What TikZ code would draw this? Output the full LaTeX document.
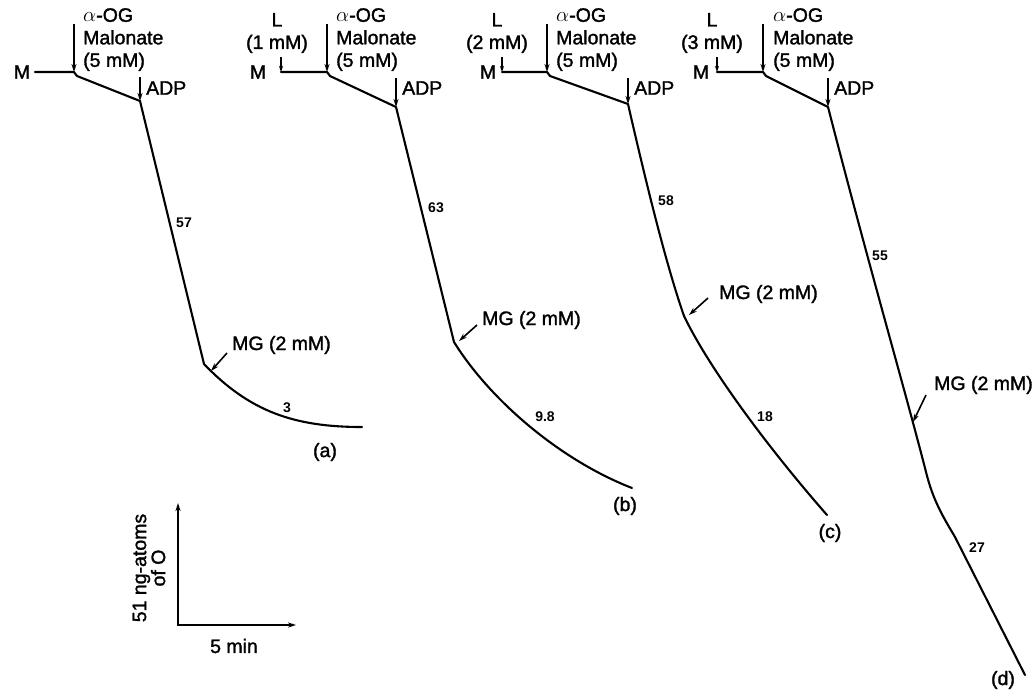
\documentclass[tikz,border=0pt]{standalone}
\usepackage{fontspec}
\setmainfont{Liberation Sans}
\newfontfamily\plotfont{Liberation Sans}[BoldFont={Liberation Sans}, BoldFeatures={FakeBold=1.5}]
\usetikzlibrary{arrows.meta}
\tikzstyle{trace} = [line width=2.1pt, line join=round, line cap=round]
\tikzstyle{addition} = [line width=1.6pt, -{Stealth[length=8pt, width=5pt]}]
\tikzstyle{ladd} = [line width=1.4pt, -{Stealth[length=6pt, width=4pt]}]
\tikzstyle{reagent} = [font=\plotfont\bfseries\fontsize{19.5}{22.5}\selectfont, inner sep=0pt]
\tikzstyle{rate} = [font=\bfseries\fontsize{14}{16}\selectfont, inner sep=0pt]
\tikzstyle{axis} = [line width=2.3pt, line cap=rect, -{Stealth[length=8pt, width=5pt]}]

\begin{document}
\begin{tikzpicture}[x=1pt, y=-1pt]
\useasboundingbox (0,0) rectangle (1036,689);
% trace (a)
\node (Ma) [reagent] at (22,72) {M};
\coordinate (a0) at (35,72);
\coordinate (a1) at (74,72);
\coordinate (a2) at (140,101);
\coordinate (a3) at (204,364);
\coordinate (a4) at (362,427);
\draw[trace] (a0) -- (a1) -- ++(3,4) -- (a2) -- (a3) .. controls (250,412) and (295,427) .. (a4);
\coordinate (ogA) at (74,24);
\coordinate (adpA) at (140,77);
\draw[addition] (ogA) -- (a1);
\draw[addition] (adpA) -- (a2);
\node (OGa) [reagent, anchor=north west, align=left] at (83,8) {$\alpha$-OG\\Malonate\\(5 mM)};
\node (ADPa) [reagent, anchor=west] at (146,88) {ADP};
\coordinate (mgA) at (227,353);
\coordinate (mgAt) at (211,371);
\draw[addition] (mgA) -- (mgAt);
\node (MGa) [reagent, anchor=west] at (232,345) {MG (2 mM)};
\node (ra1) [rate] at (184,223) {57};
\node (ra2) [rate] at (287,408) {3};
\node (pa) [reagent] at (325,452) {(a)};
% trace (b)
\node (Lb) [reagent, align=center] at (277,33) {L\\(1 mM)};
\node (Mb) [reagent] at (258,72) {M};
\coordinate (b0) at (281,72);
\coordinate (b1) at (327,72);
\coordinate (b2) at (396,107);
\coordinate (b3) at (454,342);
\coordinate (b4) at (632,488);
\draw[trace] (b0) -- (b1) -- ++(3,4) -- (b2) -- (b3) .. controls (490,400) and (560,460) .. (b4);
\coordinate (lB) at (281,57);
\coordinate (ogB) at (327,24);
\coordinate (adpB) at (396,78);
\draw[ladd] (lB) -- (b0);
\draw[addition] (ogB) -- (b1);
\draw[addition] (adpB) -- (b2);
\node (OGb) [reagent, anchor=north west, align=left] at (336,8) {$\alpha$-OG\\Malonate\\(5 mM)};
\node (ADPb) [reagent, anchor=west] at (402,88) {ADP};
\coordinate (mgB) at (477,325);
\coordinate (mgBt) at (459,341);
\draw[addition] (mgB) -- (mgBt);
\node (MGb) [reagent, anchor=west] at (482,320) {MG (2 mM)};
\node (rb1) [rate] at (436,208) {63};
\node (rb2) [rate] at (545,417) {9.8};
\node (pb) [reagent] at (625,506) {(b)};
% trace (c)
\node (Lc) [reagent, align=center] at (497,33) {L\\(2 mM)};
\node (Mc) [reagent] at (488,72) {M};
\coordinate (c0) at (502,72);
\coordinate (c1) at (547,72);
\coordinate (c2) at (628,104);
\coordinate (c3) at (684,316);
\coordinate (c4) at (827,515);
\draw[trace] (c0) -- (c1) -- ++(3,4) -- (c2) .. controls (650,200) and (668,270) .. (c3) .. controls (710,370) and (770,450) .. (c4);
\coordinate (lC) at (502,57);
\coordinate (ogC) at (547,24);
\coordinate (adpC) at (628,78);
\draw[ladd] (lC) -- (c0);
\draw[addition] (ogC) -- (c1);
\draw[addition] (adpC) -- (c2);
\node (OGc) [reagent, anchor=north west, align=left] at (556,8) {$\alpha$-OG\\Malonate\\(5 mM)};
\node (ADPc) [reagent, anchor=west] at (634,88) {ADP};
\coordinate (mgC) at (708,298);
\coordinate (mgCt) at (689,315);
\draw[addition] (mgC) -- (mgCt);
\node (MGc) [reagent, anchor=west] at (719,294) {MG (2 mM)};
\node (rc1) [rate] at (666,201) {58};
\node (rc2) [rate] at (765,417) {18};
\node (pc) [reagent] at (830,533) {(c)};
% trace (d)
\node (Ld) [reagent, align=center] at (712,33) {L\\(3 mM)};
\node (Md) [reagent] at (701,72) {M};
\coordinate (d0) at (717,72);
\coordinate (d1) at (763,72);
\coordinate (d2) at (828,107);
\coordinate (d3) at (926,472);
\coordinate (d4) at (1025,675);
\draw[trace] (d0) -- (d1) -- ++(3,4) -- (d2) .. controls (870,270) and (905,390) .. (d3) .. controls (933,500) and (942,515) .. (955,537) -- (d4);
\coordinate (lD) at (717,57);
\coordinate (ogD) at (763,24);
\coordinate (adpD) at (828,78);
\draw[ladd] (lD) -- (d0);
\draw[addition] (ogD) -- (d1);
\draw[addition] (adpD) -- (d2);
\node (OGd) [reagent, anchor=north west, align=left] at (773,8) {$\alpha$-OG\\Malonate\\(5 mM)};
\node (ADPd) [reagent, anchor=west] at (834,88) {ADP};
\coordinate (mgD) at (926,395);
\coordinate (mgDt) at (913,422);
\draw[addition] (mgD) -- (mgDt);
\node (MGd) [reagent, anchor=west] at (934,385) {MG (2 mM)};
\node (rd1) [rate] at (880,256) {55};
\node (rd2) [rate] at (977,548) {27};
\node (pd) [reagent] at (1003,680) {(d)};
% scale bars
\coordinate (origin) at (178,625);
\coordinate (ytop) at (178,503);
\coordinate (xend) at (296,625);
\draw[axis] (origin) -- (ytop);
\draw[axis] (origin) -- (xend);
\node (tlab) [reagent] at (234,646) {5 min};
\node (olab) [reagent, align=center, rotate=90, font=\plotfont\bfseries\fontsize{19.5}{19}\selectfont] at (149,568) {51 ng-atoms\\of O};
\end{tikzpicture}
\end{document}
